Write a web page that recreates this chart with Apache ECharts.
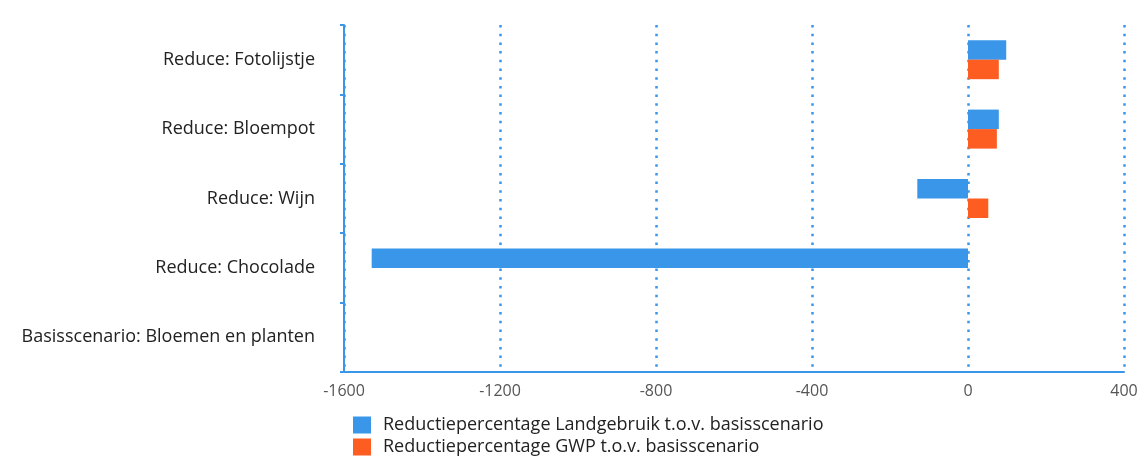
<!DOCTYPE html>
<html><head><meta charset="utf-8">
<script src="https://cdn.jsdelivr.net/npm/echarts@6/dist/echarts.min.js"></script>
<style>html,body{margin:0;padding:0;background:#fff}#c{width:1142px;height:460px}</style>
</head><body><div id="c"></div>
<script>
const categories = ["Basisscenario: Bloemen en planten","Reduce: Chocolade","Reduce: Wijn","Reduce: Bloempot","Reduce: Fotolijstje"];
const landgebruik = [0, -1529, -130, 79, 98];
const gwp = [0, 0, 52, 74, 79];
const seriesNames = ["Reductiepercentage Landgebruik t.o.v. basisscenario","Reductiepercentage GWP t.o.v. basisscenario"];
const blue = "#3996e9", orange = "#fe5d21";
const chart = echarts.init(document.getElementById('c'));
chart.setOption({
  animation:false,
  textStyle:{fontFamily:"Open Sans"},
  grid:{left:344,right:18,top:25,bottom:88,containLabel:false},
  legend:{orient:'vertical',left:353,top:416,padding:0,itemWidth:18,itemHeight:17,itemGap:4,icon:'rect',
    textStyle:{fontSize:18,lineHeight:17,color:'#222',fontFamily:'Open Sans',padding:[0,0,0,7]},data:seriesNames},
  xAxis:{type:'value',min:-1600,max:400,interval:400,
    axisLine:{show:true,lineStyle:{color:blue,width:2}},
    axisTick:{show:false},
    axisLabel:{fontSize:16,color:'#555',margin:11,formatter:v=>String(v)},
    splitLine:{show:true,lineStyle:{color:blue,type:[2.5,6.2],width:2.5}}},
  yAxis:{type:'category',data:categories,
    axisLine:{show:true,onZero:false,lineStyle:{color:blue,width:2}},
    axisTick:{show:true,length:4,lineStyle:{color:blue,width:2}},
    axisLabel:{fontSize:18,color:'#222',margin:29}},
  series:[
    {name:seriesNames[0],type:'bar',data:landgebruik,barWidth:19.5,barGap:'0%',itemStyle:{color:blue}},
    {name:seriesNames[1],type:'bar',data:gwp,barWidth:19.5,barGap:'0%',itemStyle:{color:orange}}
  ]
});
</script></body></html>
